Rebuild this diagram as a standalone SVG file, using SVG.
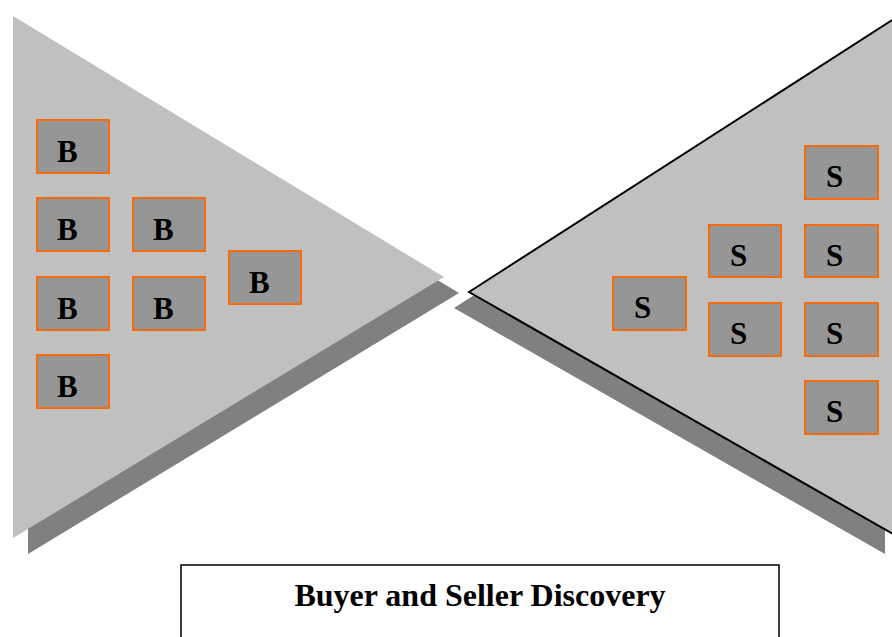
<svg xmlns="http://www.w3.org/2000/svg" width="892" height="637" viewBox="0 0 892 637">
<style>
.shadow{fill:#808080;stroke:none}
.tri{fill:#c0c0c0}
.box rect{fill:#969696;stroke:#f96b0a;stroke-width:2}
.box text{font-family:"Liberation Serif","Times New Roman",serif;font-weight:bold;font-size:31px;fill:#000}
.label text{font-family:"Liberation Serif","Times New Roman",serif;font-weight:bold;font-size:32px;fill:#000}
</style>
<rect width="892" height="637" fill="#fff"/>
<g id="buyers-shape">
<polygon class="shadow" points="28,32 459,293 28,554"/>
<polygon class="tri" points="13,16 444,277 13,538"/>
</g>
<g id="sellers-shape">
<polygon class="shadow" points="454,308 885,31 885,554"/>
<polygon class="tri" points="469,292 900,15 900,538" stroke="#000" stroke-width="2" stroke-linejoin="miter"/>
</g>
<g id="connectors"></g>
<g id="b1" class="box"><rect x="37" y="120" width="72" height="53"/><text x="57" y="162">B</text></g>
<g id="b2" class="box"><rect x="37" y="198" width="72" height="53"/><text x="57" y="240">B</text></g>
<g id="b3" class="box"><rect x="37" y="277" width="72" height="53"/><text x="57" y="319">B</text></g>
<g id="b4" class="box"><rect x="37" y="355" width="72" height="53"/><text x="57" y="397">B</text></g>
<g id="b5" class="box"><rect x="133" y="198" width="72" height="53"/><text x="153" y="240">B</text></g>
<g id="b6" class="box"><rect x="133" y="277" width="72" height="53"/><text x="153" y="319">B</text></g>
<g id="b7" class="box"><rect x="229" y="251" width="72" height="53"/><text x="249" y="293">B</text></g>
<g id="s1" class="box"><rect x="613" y="277" width="73" height="53"/><text x="634" y="318">S</text></g>
<g id="s2" class="box"><rect x="709" y="225" width="72" height="52"/><text x="730" y="266">S</text></g>
<g id="s3" class="box"><rect x="709" y="303" width="72" height="53"/><text x="730" y="344">S</text></g>
<g id="s4" class="box"><rect x="805" y="146" width="73" height="53"/><text x="826" y="187">S</text></g>
<g id="s5" class="box"><rect x="805" y="225" width="73" height="52"/><text x="826" y="266">S</text></g>
<g id="s6" class="box"><rect x="805" y="303" width="73" height="53"/><text x="826" y="344">S</text></g>
<g id="s7" class="box"><rect x="805" y="381" width="73" height="53"/><text x="826" y="422">S</text></g>
<g id="label" class="label">
<rect x="181" y="565" width="598" height="90" fill="#fff" stroke="#000" stroke-width="1.5"/>
<text x="480" y="606" text-anchor="middle">Buyer and Seller Discovery</text>
</g>
</svg>
